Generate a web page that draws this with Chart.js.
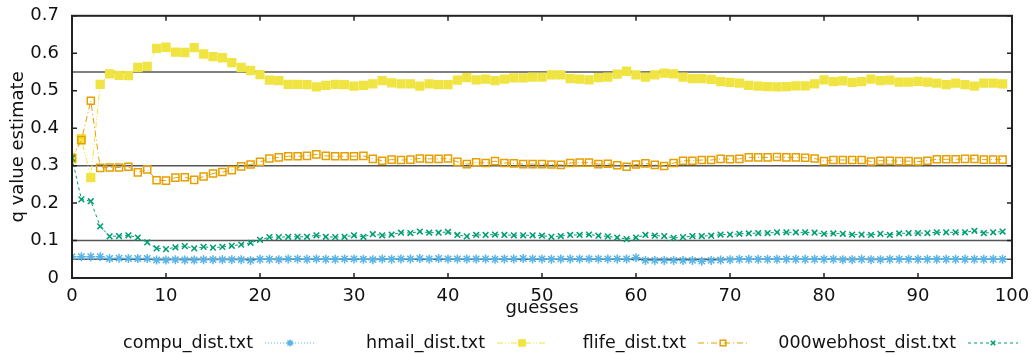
<!DOCTYPE html>
<html>
<head>
<meta charset="utf-8">
<script src="https://cdn.jsdelivr.net/npm/chart.js@4/dist/chart.umd.min.js"></script>
<style>
  html, body { margin: 0; padding: 0; background: #fff; }
</style>
</head>
<body>
<canvas id="qChart" width="1035" height="355"></canvas>
<script>
// guesses on the x axis (0..99)
var guesses = Array.from({ length: 100 }, function (_, i) { return i; });

var compu = [
  0.057, 0.057, 0.057, 0.057, 0.052, 0.053, 0.052, 0.052, 0.052, 0.048,
  0.048, 0.049, 0.048, 0.048, 0.049, 0.049, 0.049, 0.049, 0.049, 0.047,
  0.050, 0.050, 0.049, 0.051, 0.051, 0.050, 0.051, 0.050, 0.050, 0.051,
  0.051, 0.050, 0.049, 0.051, 0.050, 0.051, 0.051, 0.052, 0.051, 0.052,
  0.051, 0.051, 0.051, 0.051, 0.051, 0.050, 0.051, 0.051, 0.052, 0.051,
  0.051, 0.050, 0.051, 0.051, 0.051, 0.051, 0.051, 0.051, 0.051, 0.051,
  0.054, 0.047, 0.047, 0.047, 0.047, 0.047, 0.047, 0.045, 0.047, 0.048,
  0.049, 0.050, 0.050, 0.050, 0.050, 0.050, 0.050, 0.050, 0.050, 0.050,
  0.050, 0.050, 0.049, 0.049, 0.050, 0.049, 0.049, 0.050, 0.050, 0.050,
  0.050, 0.050, 0.050, 0.050, 0.050, 0.050, 0.050, 0.050, 0.050, 0.050
];

var hmail = [
  0.318, 0.372, 0.268, 0.517, 0.545, 0.541, 0.540, 0.562, 0.565, 0.613,
  0.616, 0.603, 0.602, 0.615, 0.598, 0.591, 0.588, 0.575, 0.562, 0.554,
  0.543, 0.528, 0.527, 0.517, 0.517, 0.516, 0.510, 0.514, 0.517, 0.516,
  0.512, 0.514, 0.518, 0.527, 0.521, 0.518, 0.518, 0.512, 0.518, 0.516,
  0.516, 0.528, 0.535, 0.529, 0.531, 0.527, 0.531, 0.534, 0.534, 0.536,
  0.536, 0.542, 0.542, 0.532, 0.531, 0.529, 0.535, 0.536, 0.544, 0.552,
  0.542, 0.536, 0.542, 0.547, 0.545, 0.536, 0.532, 0.532, 0.530, 0.524,
  0.522, 0.520, 0.514, 0.512, 0.511, 0.510, 0.511, 0.513, 0.513, 0.518,
  0.529, 0.524, 0.526, 0.522, 0.524, 0.531, 0.527, 0.528, 0.523, 0.523,
  0.525, 0.523, 0.520, 0.516, 0.520, 0.516, 0.512, 0.520, 0.520, 0.518
];

var flife = [
  0.320, 0.368, 0.473, 0.294, 0.295, 0.295, 0.297, 0.282, 0.290, 0.261,
  0.260, 0.268, 0.269, 0.262, 0.271, 0.279, 0.283, 0.288, 0.298, 0.303,
  0.310, 0.319, 0.322, 0.325, 0.325, 0.326, 0.330, 0.326, 0.325, 0.325,
  0.325, 0.326, 0.318, 0.313, 0.316, 0.315, 0.316, 0.319, 0.318, 0.318,
  0.319, 0.310, 0.304, 0.309, 0.307, 0.312, 0.307, 0.306, 0.304, 0.304,
  0.304, 0.303, 0.302, 0.307, 0.308, 0.308, 0.304, 0.305, 0.301, 0.297,
  0.303, 0.306, 0.302, 0.299, 0.307, 0.313, 0.313, 0.315, 0.315, 0.318,
  0.317, 0.318, 0.322, 0.322, 0.322, 0.323, 0.322, 0.322, 0.321, 0.319,
  0.312, 0.315, 0.315, 0.315, 0.315, 0.311, 0.313, 0.313, 0.312, 0.312,
  0.311, 0.313, 0.317, 0.317, 0.317, 0.318, 0.318, 0.316, 0.316, 0.316
];

var webhost = [
  0.320, 0.210, 0.205, 0.138, 0.111, 0.112, 0.114, 0.108, 0.095, 0.079,
  0.077, 0.082, 0.085, 0.079, 0.083, 0.081, 0.083, 0.086, 0.089, 0.094,
  0.102, 0.109, 0.109, 0.110, 0.110, 0.110, 0.114, 0.110, 0.109, 0.110,
  0.114, 0.110, 0.117, 0.114, 0.116, 0.121, 0.120, 0.124, 0.121, 0.121,
  0.123, 0.115, 0.111, 0.115, 0.115, 0.116, 0.115, 0.114, 0.114, 0.114,
  0.113, 0.110, 0.112, 0.115, 0.115, 0.116, 0.113, 0.111, 0.108, 0.104,
  0.108, 0.115, 0.113, 0.112, 0.107, 0.109, 0.112, 0.112, 0.113, 0.116,
  0.116, 0.118, 0.119, 0.120, 0.120, 0.122, 0.122, 0.122, 0.122, 0.121,
  0.118, 0.119, 0.118, 0.116, 0.116, 0.115, 0.118, 0.115, 0.119, 0.120,
  0.120, 0.120, 0.122, 0.122, 0.122, 0.122, 0.126, 0.120, 0.122, 0.124
];

// horizontal reference levels
var refLevels = [0.55, 0.3, 0.1, 0.05];

var xTicks = [0, 10, 20, 30, 40, 50, 60, 70, 80, 90, 100];
var yTicks = [0, 0.1, 0.2, 0.3, 0.4, 0.5, 0.6, 0.7];

var FONT = 'DejaVu Sans';

function pts(values) {
  return values.map(function (v, i) { return { x: guesses[i], y: v }; });
}

var series = [
  { label: 'compu_dist.txt', data: compu, color: '#56b4e9', style: 'star', radius: 4.5, dash: [1, 2], fill: false },
  { label: 'hmail_dist.txt', data: hmail, color: '#f0e442', style: 'rect', radius: 5.5, dash: [6, 2, 1, 2, 1, 2], fill: true },
  { label: 'flife_dist.txt', data: flife, color: '#e69f00', style: 'rect', radius: 5, dash: [6, 3, 1, 3], fill: false },
  { label: '000webhost_dist.txt', data: webhost, color: '#009e73', style: 'crossRot', radius: 4, dash: [3, 3], fill: false }
];

var datasets = series.map(function (s, i) {
  return {
    label: s.label,
    data: pts(s.data),
    borderColor: s.color,
    backgroundColor: s.fill ? s.color : 'rgba(0,0,0,0)',
    borderWidth: 1,
    borderDash: s.dash,
    pointStyle: s.style,
    pointRadius: s.radius,
    pointBorderColor: s.color,
    pointBackgroundColor: s.fill ? s.color : 'rgba(0,0,0,0)',
    pointBorderWidth: 1.5,
    tension: 0,
    order: 10 - i
  };
});

refLevels.forEach(function (lv) {
  datasets.push({
    label: 'ref',
    data: [{ x: 0, y: lv }, { x: 100, y: lv }],
    borderColor: '#555555',
    borderWidth: 1.5,
    pointRadius: 0,
    order: 20
  });
});

// gnuplot-like frame with inward ticks
var framePlugin = {
  id: 'frame',
  afterDatasetsDraw: function (chart) {
    var ctx = chart.ctx, a = chart.chartArea;
    var xs = chart.scales.x, ys = chart.scales.y;
    ctx.save();
    ctx.strokeStyle = '#222';
    ctx.lineWidth = 1.5;
    ctx.beginPath();
    xTicks.forEach(function (t) {
      var px = xs.getPixelForValue(t);
      ctx.moveTo(px, a.bottom); ctx.lineTo(px, a.bottom - 5);
      ctx.moveTo(px, a.top); ctx.lineTo(px, a.top + 5);
    });
    yTicks.forEach(function (t) {
      var py = ys.getPixelForValue(t);
      ctx.moveTo(a.left, py); ctx.lineTo(a.left + 5, py);
      ctx.moveTo(a.right, py); ctx.lineTo(a.right - 5, py);
    });
    ctx.stroke();
    ctx.lineWidth = 2;
    ctx.strokeRect(a.left, a.top, a.right - a.left, a.bottom - a.top);
    ctx.restore();
  }
};

// key below the plot: text first, then line sample
var keyPlugin = {
  id: 'key',
  afterDraw: function (chart) {
    var ctx = chart.ctx;
    var textEnds = [253, 485, 686, 956];
    var y = 343;
    ctx.save();
    ctx.font = '17.5px "' + FONT + '"';
    ctx.textAlign = 'right';
    ctx.textBaseline = 'middle';
    series.forEach(function (s, i) {
      var ds = chart.data.datasets[i];
      var x0 = textEnds[i];
      ctx.fillStyle = '#111';
      ctx.fillText(s.label, x0, y);
      ctx.strokeStyle = s.color;
      ctx.lineWidth = 1;
      ctx.setLineDash(s.dash);
      ctx.beginPath();
      ctx.moveTo(x0 + 12, y);
      ctx.lineTo(x0 + 62, y);
      ctx.stroke();
      ctx.setLineDash([]);
      ctx.fillStyle = ds.pointBackgroundColor;
      ctx.strokeStyle = s.color;
      ctx.lineWidth = 1.5;
      Chart.helpers.drawPoint(ctx, { pointStyle: s.style, radius: s.radius * 0.8, rotation: 0, borderWidth: 1.5 }, x0 + 37, y);
    });
    ctx.restore();
  }
};

new Chart(document.getElementById('qChart').getContext('2d'), {
  type: 'line',
  data: { datasets: datasets },
  options: {
    responsive: false,
    animation: false,
    layout: { padding: { top: 4, right: 23, bottom: 36, left: 0 } },
    plugins: {
      legend: { display: false },
      tooltip: { enabled: false }
    },
    scales: {
      x: {
        type: 'linear',
        min: 0,
        max: 100,
        afterBuildTicks: function (scale) {
          scale.ticks = xTicks.map(function (v) { return { value: v }; });
        },
        afterFit: function (scale) { scale.height = 41; },
        grid: { display: false },
        border: { display: false },
        ticks: { color: '#111', padding: 0, maxRotation: 0, font: { family: FONT, size: 18 } },
        title: { display: true, text: 'guesses', color: '#111', padding: 0, font: { family: FONT, size: 18 } }
      },
      y: {
        min: 0,
        max: 0.7,
        afterBuildTicks: function (scale) {
          scale.ticks = yTicks.map(function (v) { return { value: v }; });
        },
        afterFit: function (scale) { scale.width = 72; },
        grid: { display: false },
        border: { display: false },
        ticks: { color: '#111', padding: 5, font: { family: FONT, size: 18 } },
        title: { display: true, text: 'q value estimate', color: '#111', padding: { top: 8, bottom: 0 }, font: { family: FONT, size: 18 } }
      }
    }
  },
  plugins: [framePlugin, keyPlugin]
});
</script>
</body>
</html>
